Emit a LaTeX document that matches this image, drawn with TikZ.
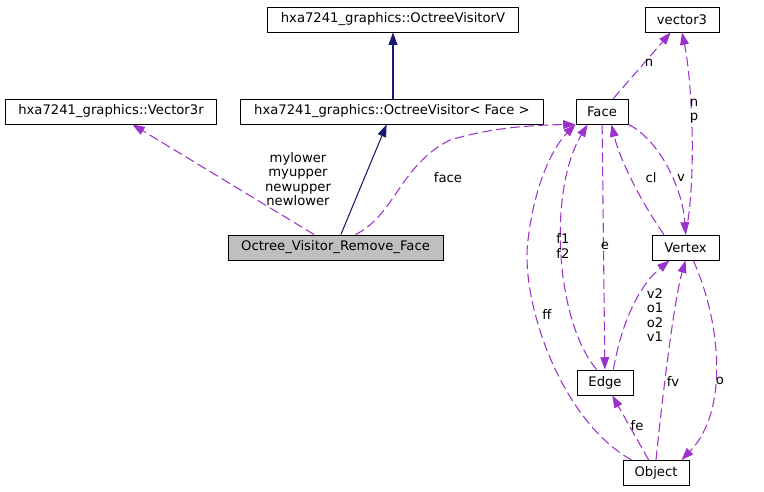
\documentclass[tikz,border=0pt]{standalone}
\usepackage{fontspec}
\setmainfont{DejaVu Sans}
\usetikzlibrary{arrows.meta}
\definecolor{usecol}{HTML}{9A32CD}
\definecolor{inhcol}{HTML}{191970}
\definecolor{curcol}{HTML}{BFBFBF}
\tikzset{
  cls/.style={draw=black,line width=0.55pt,minimum height=0.5cm,inner xsep=6pt,inner ysep=0pt,font=\fontsize{7.5}{8.2}\selectfont},
  lbl/.style={inner sep=0pt,align=center,font=\fontsize{7.5}{8.2}\selectfont},
  inh/.style={draw=inhcol,line width=0.6pt,-{Triangle[length=7pt,width=5pt]}},
  assoc/.style={draw=usecol,line width=0.6pt,dash pattern=on 5.5pt off 2.5pt,-{Triangle[length=7pt,width=5pt]}},
}

\begin{document}
\begin{tikzpicture}[x=0.02cm,y=-0.02cm]
\useasboundingbox (0,0) rectangle (764,491);
% classes
\node[cls,minimum width=5.04cm] (ovisv) at (393,19.5) {hxa7241\_graphics::OctreeVisitorV};
\node[cls,minimum width=1.48cm] (vec3) at (682,19.5) {vector3};
\node[cls,minimum width=4.24cm] (vec3r) at (111,111.5) {hxa7241\_graphics::Vector3r};
\node[cls,minimum width=6.08cm] (ovis) at (392,111.5) {hxa7241\_graphics::OctreeVisitor< Face >};
\node[cls,minimum width=1.04cm] (face) at (602,111.5) {Face};
\node[cls,minimum width=4.3cm,fill=curcol] (rmf) at (335.5,247.5) {Octree\_Visitor\_Remove\_Face};
\node[cls,minimum width=1.34cm] (vert) at (685.5,247.5) {Vertex};
\node[cls,minimum width=1.12cm] (edge) at (605,382.5) {Edge};
\node[cls,minimum width=1.32cm] (obj) at (656,473) {Object};
% inheritance
\draw[inh] (ovisv.south |- ovis.north) -- (ovisv.south);
\draw[inh] (rmf) -- (ovis);
% members
\draw[assoc] (rmf) -- (vec3r);
\node[lbl] (lmy) at (298,179) {mylower\\myupper\\newupper\\newlower};
\draw[assoc] (rmf.33) .. controls (395,215) and (400,165) .. (450,140)
  .. controls (490,128) and (530,125) .. (face.south west);
\node[lbl] (lface) at (448,178) {face};
\draw[assoc] (face) -- (vec3);
\node[lbl] (ln) at (649,63) {n};
\draw[assoc] (vert.north) .. controls (697,180) and (692,80) .. (vec3.south);
\node[lbl] (lnp) at (694,111) {n\\p};
\draw[assoc] (vert.149) .. controls (640,200) and (620,160) .. (face.-54);
\node[lbl] (lcl) at (651,178) {cl};
\draw[assoc] (face.south east) .. controls (660,140) and (683,190) .. (vert.north);
\node[lbl] (lv) at (681,178) {v};
\draw[assoc] (edge.123) .. controls (555,320) and (548,190) .. (face.-138);
\node[lbl] (lf) at (563,246) {f1\\f2};
\draw[assoc] (face) -- (edge);
\node[lbl] (le) at (605,246) {e};
\draw[assoc] (edge.57) .. controls (622,320) and (640,285) .. (vert.-141);
\node[lbl] (lvo) at (655,315) {v2\\o1\\o2\\v1};
\draw[assoc] (obj.152) .. controls (560,420) and (520,300) .. (528,240)
  .. controls (535,180) and (555,145) .. (face.south west);
\node[lbl] (lff) at (547,314) {ff};
\draw[assoc] (obj) -- (edge);
\node[lbl] (lfe) at (637,426) {fe};
\draw[assoc] (obj.north) .. controls (662,400) and (674,300) .. (vert.south);
\node[lbl] (lfv) at (673,381) {fv};
\draw[assoc] (vert.-59) .. controls (720,320) and (730,410) .. (obj.27);
\node[lbl] (lo) at (720,381) {o};
\end{tikzpicture}
\end{document}
